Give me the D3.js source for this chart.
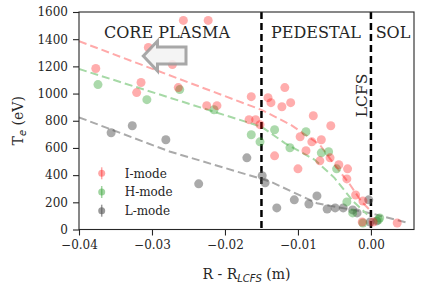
<!DOCTYPE html>
<html>
<head>
<meta charset="utf-8">
<script src="https://cdn.jsdelivr.net/npm/d3@7"></script>
<style>
  body { margin: 0; background: #fff; }
  svg { font-family: "DejaVu Serif", serif; }
</style>
</head>
<body>
<div id="chart"></div>
<script>
// I-mode points
var iModeX = [-0.0377,-0.0315,-0.0321,-0.0305,-0.0272,-0.0264,-0.0257,-0.0223,-0.0225,-0.0211,-0.0164,-0.0167,-0.0158,-0.0141,-0.0137,-0.0122,-0.0118,-0.0110,-0.0152,-0.0079,-0.0055,-0.0097,-0.0081,-0.0068,-0.0089,-0.0132,-0.0056,-0.0100,-0.0070,-0.0044,-0.0032,-0.0033,-0.0021,-0.0011,-0.0012,0.0003,0.0036];
var iModeY = [1184,1081,1007,1339,1213,1044,1538,1538,911,911,977,808,808,970,933,903,1044,933,771,837,763,682,645,660,579,542,527,446,505,476,446,372,254,210,55,55,48];
// H-mode points
var hModeX = [-0.0374,-0.0307,-0.0262,-0.0215,-0.0164,-0.0152,-0.0132,-0.0089,-0.0111,-0.0068,-0.0058,-0.0047,-0.0033,-0.0025,-0.0011,0.0010,0.0012];
var hModeY = [1066,955,1029,881,697,645,734,719,601,564,572,446,203,122,48,70,85];
// L-mode points
var lModeX = [-0.0356,-0.0327,-0.0281,-0.0236,-0.0170,-0.0149,-0.0145,-0.0129,-0.0105,-0.0085,-0.0074,-0.0060,-0.0049,-0.0038,-0.0025,-0.0019,-0.0003,-0.0001,0.0008];
var lModeY = [712,763,660,336,527,395,343,159,218,188,247,151,159,159,144,122,218,55,63];
// fit curves (knots)
var iFitX = [-0.04,-0.015,-0.011,-0.007,-0.005,-0.003,-0.0013,0.0];
var iFitY = [1385,880,771,623,476,341,205,135];
var hFitX = [-0.04,-0.015,-0.0118,-0.0077,-0.005,-0.0024,-0.0005];
var hFitY = [1181,756,636,513,380,205,110];
var lFitX = [-0.04,-0.0276,-0.0138,-0.0074,0.0,0.005];
var lFitY = [825,574,353,193,119,50];

var xTicks = [-0.04,-0.03,-0.02,-0.01,0.00];
var yTicks = [0,200,400,600,800,1000,1200,1400,1600];
var regionLines = [-0.015, 0.0];

var W = 421, H = 288;
var mLeft = 79, mTop = 12, mRight = 414, mBottom = 229.5;

var svg = d3.select("#chart").append("svg").attr("width", W).attr("height", H);

var xScale = d3.scaleLinear().domain([-0.04, 0.0059]).range([mLeft, mRight]);
var yScale = d3.scaleLinear().domain([0, 1600]).range([mBottom, mTop]);

//axes
var xAxis = svg.append("g").attr("transform", "translate(0," + mBottom + ")")
   .call(d3.axisBottom(xScale).tickValues(xTicks).tickSize(6).tickPadding(5)
   .tickFormat(function(d){ return d3.format(".2f")(d).replace("-", "\u2212"); }));
var yAxis = svg.append("g").attr("transform", "translate(" + mLeft + ",0)")
   .call(d3.axisLeft(yScale).tickValues(yTicks).tickSize(6).tickPadding(5).tickFormat(d3.format("d")));
[xAxis, yAxis].forEach(function(g){
  g.select(".domain").remove();
  g.selectAll("line").attr("stroke", "#262626").attr("stroke-width", 1.1);
  g.selectAll("text").attr("font-family", "DejaVu Serif").attr("font-size", 12).attr("fill", "#262626");
});

//axis labels
var xl = svg.append("text").attr("x", (mLeft+mRight)/2).attr("y", 279).attr("text-anchor", "middle")
   .attr("font-size", 14).attr("fill", "#262626");
xl.append("tspan").text("R - R");
xl.append("tspan").text("LCFS").attr("font-family", "DejaVu Sans").attr("font-style", "italic").attr("font-size", 10).attr("dy", 3);
xl.append("tspan").text(" (m)").attr("dy", -3);

var yl = svg.append("text").attr("transform", "translate(23," + (mTop+mBottom)/2 + ") rotate(-90)")
   .attr("text-anchor", "middle").attr("font-size", 14).attr("fill", "#262626");
yl.append("tspan").text("T");
yl.append("tspan").text("e").attr("font-family", "DejaVu Sans").attr("font-style", "italic").attr("font-size", 10).attr("dy", 3);
yl.append("tspan").text(" (eV)").attr("dy", -3);

svg.append("clipPath").attr("id", "clip").append("rect")
   .attr("x", mLeft).attr("y", mTop).attr("width", mRight-mLeft).attr("height", mBottom-mTop);
var plot = svg.append("g").attr("clip-path", "url(#clip)");

//fit lines
function zip(xs, ys){ return xs.map(function(x, i){ return [x, ys[i]]; }); }
var line = d3.line().x(function(d){ return xScale(d[0]); }).y(function(d){ return yScale(d[1]); });
var fits = [
  {pts: zip(lFitX, lFitY), color: "#aaaaaa"},
  {pts: zip(hFitX, hFitY), color: "#a6d9a6"},
  {pts: zip(iFitX, iFitY), color: "#ffaaaa"}
];
plot.selectAll(".fit").data(fits).enter().append("path")
   .attr("d", function(d){ return line(d.pts); })
   .attr("fill", "none").attr("stroke", function(d){ return d.color; })
   .attr("stroke-width", 2).attr("stroke-dasharray", "8,4");

//region lines
plot.selectAll(".region").data(regionLines).enter().append("line")
   .attr("x1", xScale).attr("x2", xScale).attr("y1", mTop).attr("y2", mBottom)
   .attr("stroke", "#000").attr("stroke-width", 2.5).attr("stroke-dasharray", "7,4");

//arrow
var ax = [143.3, 157.5, 157.5, 186, 186, 157.5, 157.5];
var ay = [56, 41, 47, 47, 64, 64, 71];
svg.append("path")
   .attr("d", "M" + ax.map(function(x, i){ return x + "," + ay[i]; }).join("L") + "Z")
   .attr("fill", "#f2f2f2").attr("fill-opacity", 0.85)
   .attr("stroke", "#999").attr("stroke-width", 3).attr("stroke-opacity", 0.85);

//points
var groups = [
  {x: lModeX, y: lModeY, color: "#555555", op: 0.5},
  {x: hModeX, y: hModeY, color: "#2ca02c", op: 0.4},
  {x: iModeX, y: iModeY, color: "#ff0000", op: 0.32}
];
groups.forEach(function(g){
  plot.selectAll(null).data(zip(g.x, g.y)).enter().append("circle")
     .attr("cx", function(d){ return xScale(d[0]); }).attr("cy", function(d){ return yScale(d[1]); })
     .attr("r", 4.5).attr("fill", g.color).attr("fill-opacity", g.op);
});

//frame
svg.append("rect").attr("x", mLeft).attr("y", mTop).attr("width", mRight-mLeft).attr("height", mBottom-mTop)
   .attr("fill", "none").attr("stroke", "#262626").attr("stroke-width", 1.1);

//region labels
svg.append("text").text("CORE PLASMA").attr("x", 167).attr("y", 37.5).attr("text-anchor", "middle").attr("font-size", 16).attr("fill", "#262626");
svg.append("text").text("PEDESTAL").attr("x", 316).attr("y", 37.5).attr("text-anchor", "middle").attr("font-size", 16).attr("fill", "#262626");
svg.append("text").text("SOL").attr("x", 393).attr("y", 37.5).attr("text-anchor", "middle").attr("font-size", 16).attr("fill", "#262626");
svg.append("text").text("LCFS").attr("transform", "translate(367,95.5) rotate(-90)").attr("text-anchor", "middle").attr("font-size", 15.5).attr("fill", "#262626");

//legend
var legend = [
  {label: "I-mode", color: "#ff0000", op: 0.35},
  {label: "H-mode", color: "#2ca02c", op: 0.45},
  {label: "L-mode", color: "#555555", op: 0.6}
];
var lg = svg.selectAll(".lg").data(legend).enter().append("g")
   .attr("transform", function(d, i){ return "translate(101.7," + (173.3 + i*18.7) + ")"; });
lg.append("line").attr("x1", 0).attr("x2", 0).attr("y1", -6).attr("y2", 6)
   .attr("stroke", function(d){ return d.color; }).attr("stroke-opacity", function(d){ return d.op; }).attr("stroke-width", 1.5);
lg.append("circle").attr("r", 3.5).attr("fill", function(d){ return d.color; }).attr("fill-opacity", function(d){ return d.op; });
lg.append("text").text(function(d){ return d.label; }).attr("x", 23).attr("dy", "0.35em").attr("font-size", 12).attr("fill", "#262626");
</script>
</body>
</html>
